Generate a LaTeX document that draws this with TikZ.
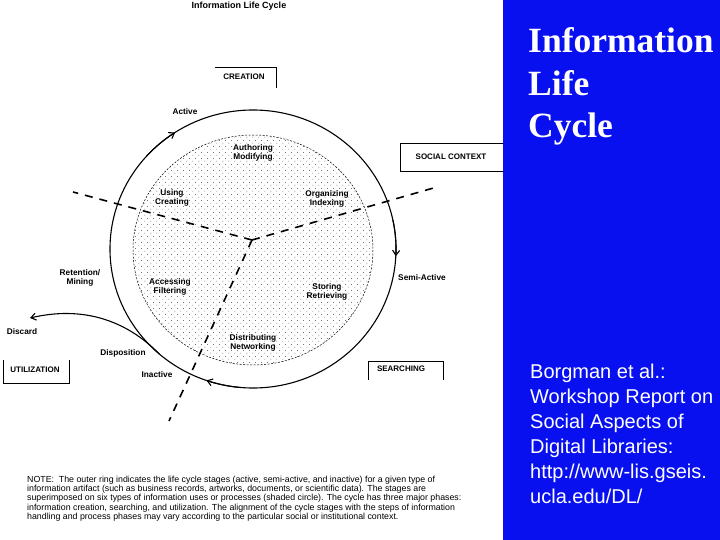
\documentclass[tikz,border=0pt]{standalone}
\usepackage{fontspec}
\setmainfont{Liberation Sans}
\newfontfamily\headserif{Liberation Serif}
\usetikzlibrary{arrows.meta, patterns.meta, calc}
\definecolor{panelblue}{RGB}{8,16,240}

\tikzdeclarepattern{
  name=stagedots,
  type=uncolored,
  bounding box={(0pt,0pt) and (6pt,6pt)},
  tile size={(6pt,6pt)},
  code={
    \fill (1pt,1pt) circle (0.5pt);
    \fill (4pt,4pt) circle (0.5pt);
  }
}

\begin{document}
\begin{tikzpicture}[x=1pt, y=-1pt, >={Straight Barb[length=5pt,width=7pt]},
  stage/.style={font=\bfseries\fontsize{8.3}{9.5}\selectfont, align=center, inner sep=1pt},
  phase/.style={font=\bfseries\fontsize{8}{9}\selectfont, inner sep=0pt},
  spoke/.style={line width=1.6pt, dash pattern=on 8pt off 7pt},
  ring/.style={line width=1.1pt},
  heading/.style={anchor=base west, inner sep=0pt, text=white, font=\headserif\bfseries\fontsize{35.5}{40}\selectfont}]

\useasboundingbox (0,0) rectangle (720,540);
\fill[panelblue] (503,0) rectangle (720,540);

\node[phase, font=\bfseries\fontsize{9}{10}\selectfont] (caption) at (239,6) {Information Life Cycle};

% shaded circle of uses
\coordinate (core) at (253,250);
\draw[pattern={stagedots}, pattern color=black!75, dash pattern=on 2pt off 1.5pt, line width=0.5pt]
  (core) ellipse [x radius=120, y radius=115];

% outer ring of stages
\coordinate (ctr) at (253,249);
\draw[ring] (ctr) ellipse [x radius=143, y radius=139];
\draw[ring,->] ($(ctr)+(222:143 and 139)$) arc[start angle=222, end angle=237, x radius=143, y radius=139];
\draw[ring,->] ($(ctr)+(-12:143 and 139)$) arc[start angle=-12, end angle=3, x radius=143, y radius=139];
\draw[ring,->] ($(ctr)+(95:143 and 139)$) arc[start angle=95, end angle=109, x radius=143, y radius=139];

\coordinate (fork) at ($(ctr)+(131:143 and 139)$);
\coordinate (bin) at (30,318);
\draw[ring,->] (fork) .. controls (132,326) and (90,304) .. (bin);

% phase boundaries
\coordinate (hub) at (252,240);
\coordinate (west) at (73,192);
\coordinate (east) at (437,187);
\coordinate (south) at (169,421);
\draw[spoke] (hub) -- (west);
\draw[spoke] (hub) -- (east);
\draw[spoke] (hub) -- (south);

% phase boxes
\node[phase] (creation) at (244,77) {CREATION};
\draw (215,67) -| (276,88);
\node[phase] (social) at (451,157) {SOCIAL CONTEXT};
\draw (503,143) -| (400,171) -- (503,171);
\node[phase] (searching) at (401,369) {SEARCHING};
\draw (368,380) |- (443,361) -- (443,380);
\node[phase] (utilization) at (35,370) {UTILIZATION};
\draw (3,360) |- (69,383) -- (69,360);

% uses
\node[stage] (authoring) at (253,153) {Authoring\\Modifying};
\node[stage] (using) at (172,198) {Using\\Creating};
\node[stage] (organizing) at (327,199) {Organizing\\Indexing};
\node[stage] (accessing) at (170,287) {Accessing\\Filtering};
\node[stage] (storing) at (327,292) {Storing\\Retrieving};
\node[stage] (distributing) at (253,343) {Distributing\\Networking};

% stages
\node[stage] (active) at (185,112) {Active};
\node[stage] (semiactive) at (422,278) {Semi-Active};
\node[stage] (inactive) at (157,375) {Inactive};
\node[stage] (retention) at (80,278) {Retention/\\Mining};
\node[stage] (discard) at (22,332) {Discard};
\node[stage] (disposition) at (123,353) {Disposition};

\node[anchor=north west, inner sep=0pt, align=left, font=\fontsize{8.8}{9.2}\selectfont] (note) at (27,476)
  {NOTE:\ \ The outer ring indicates the life cycle stages (active, semi-active, and inactive) for a given type of\\
   information artifact (such as business records, artworks, documents, or scientific data). The stages are\\
   superimposed on six types of information uses or processes (shaded circle). The cycle has three major phases:\\
   information creation, searching, and utilization. The alignment of the cycle stages with the steps of information\\
   handling and process phases may vary according to the particular social or institutional context.};

% side panel
\node[heading] (line1) at (528,53) {Information};
\node[heading] (line2) at (528,96) {Life};
\node[heading] (line3) at (528,138) {Cycle};
\node[anchor=north west, inner sep=0pt, align=left, text=white, font=\fontsize{20}{25}\selectfont] (source) at (530,364)
  {Borgman et al.:\\Workshop Report on\\Social Aspects of\\Digital Libraries:\\http://www-lis.gseis.\\ucla.edu/DL/};

\end{tikzpicture}
\end{document}
